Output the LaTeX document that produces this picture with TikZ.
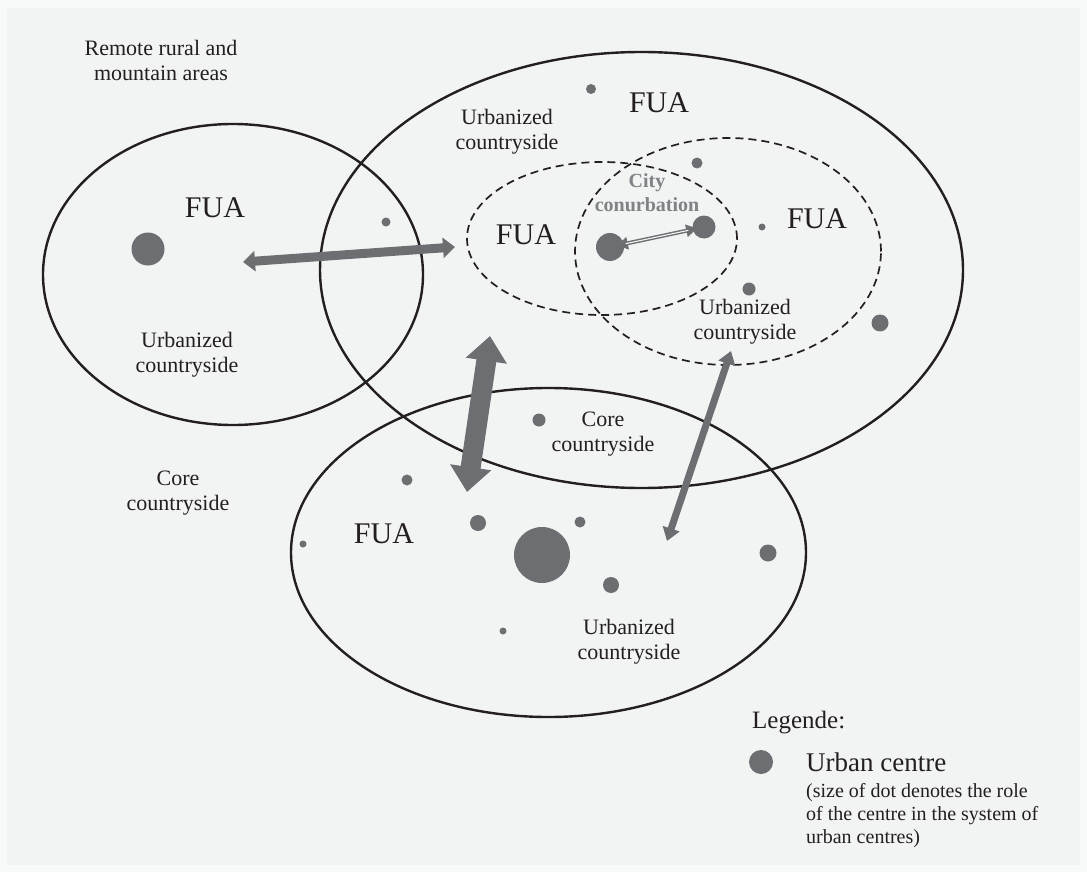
\documentclass[tikz,border=0pt]{standalone}
\usepackage{fontspec}
\setmainfont{Liberation Serif}
\usetikzlibrary{arrows.meta}
\definecolor{bg}{HTML}{F2F3F3}
\definecolor{rim}{HTML}{F8F9F9}
\definecolor{dotgray}{HTML}{6D6E72}
\definecolor{ink}{HTML}{231F20}
\definecolor{citygray}{HTML}{808285}
\tikzset{
  x=1pt, y=-1pt,
  area/.style={draw=ink, line width=2.4pt},
  fuaarea/.style={draw=ink, line width=1.7pt, dash pattern=on 8pt off 5pt},
  centre/.style={circle, fill=dotgray, inner sep=0pt, minimum size=#1},
  lbl/.style={text=ink, align=center, inner sep=0pt, font=\fontsize{22}{25}\selectfont},
  fualbl/.style={text=ink, inner sep=0pt, font=\fontsize{30}{34}\selectfont},
  citylbl/.style={text=citygray, align=center, inner sep=0pt, font=\fontsize{20}{24}\selectfont\bfseries},
  bigflow/.style={draw=dotgray, line width=20pt, {Triangle[width=40pt,length=25pt]}-{Triangle[width=40pt,length=25pt]}},
  midflow/.style={draw=dotgray, line width=9pt, {Triangle[width=20pt,length=12pt]}-{Triangle[width=20pt,length=12pt]}},
  thinflow/.style={draw=dotgray, line width=7pt, {Triangle[width=17pt,length=13pt]}-{Triangle[width=17pt,length=13pt]}},
  tinyflow/.style={draw=dotgray, line width=4pt, {Triangle[width=12pt,length=11pt]}-{Triangle[width=12pt,length=11pt]}, shorten <=7pt, shorten >=7pt},
  tinyinner/.style={draw=bg, line width=1.1pt, shorten <=16pt, shorten >=16pt},
}
\begin{document}
\begin{tikzpicture}
\useasboundingbox (0,0) rectangle (1087,872);
\fill[rim] (0,0) rectangle (1087,872);
\fill[bg] (7,8) rectangle (1080,865);

% areas
\draw[area] (233,274.5) ellipse [x radius=190pt, y radius=150.5pt];
\draw[area] (641.5,270) ellipse [x radius=321.5pt, y radius=218pt];
\draw[area] (548.5,552.5) ellipse [x radius=257.5pt, y radius=164.5pt];
\draw[fuaarea] (602,238.5) ellipse [x radius=135pt, y radius=76.5pt];
\draw[fuaarea] (728,251.5) ellipse [x radius=153pt, y radius=113.5pt];

% urban centres
\node[centre=33pt] (d1) at (148,249) {};
\node[centre=9pt]  (d2) at (386,222) {};
\node[centre=10pt] (d3) at (591,89) {};
\node[centre=11pt] (d4) at (697,163) {};
\node[centre=28pt] (cA) at (610,247) {};
\node[centre=23pt] (cB) at (704,227) {};
\node[centre=7pt]  (d5) at (762,227) {};
\node[centre=13pt] (d6) at (749,289) {};
\node[centre=17pt] (d7) at (880,323) {};
\node[centre=13pt] (d8) at (539,420) {};
\node[centre=11pt] (d9) at (407,480) {};
\node[centre=7pt]  (d10) at (303,544) {};
\node[centre=16pt] (d11) at (478,523) {};
\node[centre=11pt] (d12) at (580,522) {};
\node[centre=56pt] (d13) at (542,555) {};
\node[centre=16pt] (d14) at (611,585) {};
\node[centre=7pt]  (d15) at (503,631) {};
\node[centre=17pt] (d16) at (768,553) {};

% flows
\coordinate (hW) at (243,262);
\coordinate (hE) at (455,247);
\coordinate (tN) at (490,336);
\coordinate (tS) at (467,492);
\coordinate (lN) at (731,351);
\coordinate (lS) at (667,541);
\draw[midflow] (hW) -- (hE);
\draw[bigflow] (tN) -- (tS);
\draw[thinflow] (lN) -- (lS);
\draw[tinyflow] (cA.center) -- (cB.center);
\draw[tinyinner] (cA.center) -- (cB.center);

% labels
\node[lbl] (remote) at (161,60) {Remote rural and\\mountain areas};
\node[lbl] (uc1) at (507,132) {Urbanized\\countryside};
\node[lbl] (uc2) at (187,355) {Urbanized\\countryside};
\node[lbl] (uc3) at (745,322) {Urbanized\\countryside};
\node[lbl] (uc4) at (629,642) {Urbanized\\countryside};
\node[lbl] (core1) at (603,434) {Core\\countryside};
\node[lbl] (core2) at (178,493) {Core\\countryside};
\node[fualbl] (f1) at (215,207.5) {FUA};
\node[fualbl] (f2) at (526,235) {FUA};
\node[fualbl] (f3) at (817,218.5) {FUA};
\node[fualbl] (f4) at (659,103) {FUA};
\node[fualbl] (f5) at (384,533.5) {FUA};
\node[citylbl] (city) at (647,193) {City\\conurbation};

% legend
\node[text=ink, inner sep=0pt, anchor=base west, font=\fontsize{25}{28}\selectfont] (leg) at (752,728) {Legende:};
\node[centre=24pt] (legdot) at (761,762) {};
\node[text=ink, inner sep=0pt, anchor=base west, font=\fontsize{27}{30}\selectfont] (legt) at (806,771) {Urban centre};
\node[text=ink, inner sep=0pt, anchor=north west, align=left, font=\fontsize{20}{23}\selectfont] (legd) at (806,783) {(size of dot denotes the role\\of the centre in the system of\\urban centres)};
\end{tikzpicture}
\end{document}
